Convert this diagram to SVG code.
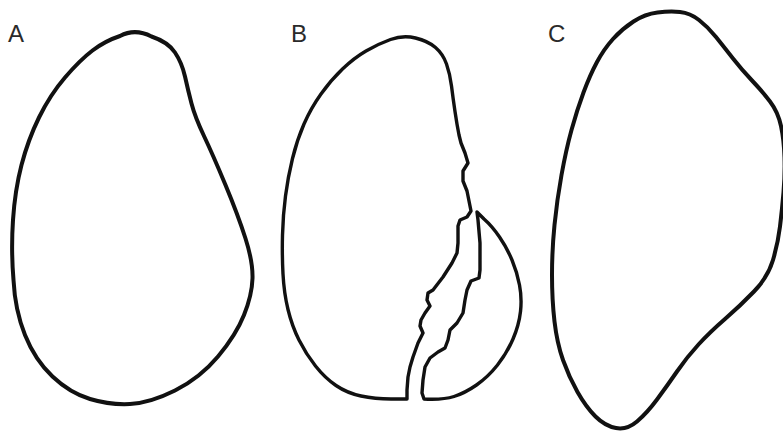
<svg xmlns="http://www.w3.org/2000/svg" width="783" height="432" viewBox="0 0 783 432">
  <style>
    .outline { fill: none; stroke: #111; stroke-linejoin: round; stroke-linecap: round; }
    .thick { stroke-width: 4; }
    .thin { stroke-width: 3.4; }
    .label { font-family: "Liberation Sans", Arial, sans-serif; font-size: 24px; fill: #2a2a2a; }
  </style>
  <rect width="783" height="432" fill="#fff"/>

  <!-- A: intact outline -->
  <g id="shape-a">
    <text class="label" x="8" y="42">A</text>
    <path class="outline thick" d="M120,36 Q135,28 151.5,36.5 Q168,42 175,52.5 Q182,63 185,76.5 Q188,90 191.5,103.5 Q195,117 204,136 Q213,155 225.5,185 Q238,215 245.5,238.5 Q253,262 252.5,278.5 Q252,295 244,315 Q236,335 218,356.5 Q200,378 175,390.5 Q150,403 130,404 Q110,405 90,399 Q70,393 52.5,376.5 Q35,360 25,335 Q15,310 13.5,280 Q11,250 13,220 Q15,190 21.5,165 Q28,140 39,117.5 Q50,95 65,77.5 Q80,60 92.5,50.5 Q105,41 120,36 Z"/>
  </g>

  <!-- B: main piece with a separated fragment along the crack -->
  <g id="shape-b">
    <text class="label" x="291" y="42">B</text>
    <path id="b-main" class="outline thin" d="M407,399 L391,399 Q375,399 361,396 Q347,393 336,385.5 Q325,378 315.5,366 Q306,354 299,340 Q292,326 288,309.5 Q284,293 283,274 Q282,255 282.5,235 Q283,215 285.5,196 Q288,177 292.5,158.5 Q297,140 304,124 Q311,108 321,94 Q331,80 342.5,69 Q354,58 366,51 Q378,44 390.5,39.5 Q403,35 415.5,38 Q428,41 435.5,47.5 Q443,54 446.5,64 Q450,74 451.5,86 Q453,98 455,111.5 Q457,125 459,135 L461,143 L465,153 L468,163 L463,171 L463,181 L467,191 L469,201 L471,211 L467,217 L460,220 L458,226 L458,243 L457,253 L452,263 L443,277 L433,290 L428,293 L427,300 L430,306 L425,313 L421,320 L420,326 L423,333 L418,343 L413,357 L410,367 L408,377 L407,390 Z"/>
    <path id="b-fragment" class="outline thin" d="M477,212 L484,219 Q492,226 499.5,237 Q507,248 512,260 Q517,272 519.5,285 Q522,298 520.5,311.5 Q519,325 513,339 Q507,353 497.5,365 Q488,377 476.5,385 Q465,393 454,396.5 Q443,400 424,399 L422,393 L423,380 L425,367 L430,358 L438,352 L445,348 L448,340 L450,330 L457,323 L463,313 L465,300 L467,290 L471,281 L479,278 L480,270 L480,243 L478,220 Z"/>
  </g>

  <!-- C: reshaped outline -->
  <g id="shape-c">
    <text class="label" x="548" y="42">C</text>
    <path class="outline thick" d="M657.5,12.5 Q670,11 680,12 Q690,13 699,20 Q708,27 716,37 Q724,47 733,58.5 Q742,70 752,80.5 Q762,91 770,101.5 Q778,112 781,126 Q784,140 784.5,157.5 Q785,175 783.5,192.5 Q782,210 780,226.5 Q778,243 773,260 Q768,277 754,291.5 Q740,306 725,319 Q710,332 698.5,344.5 Q687,357 677,371.5 Q667,386 657,399.5 Q647,413 637,421.5 Q627,430 616,428 Q605,426 595.5,416.5 Q586,407 577.5,392 Q569,377 563,360 Q557,343 554.5,321.5 Q552,300 552,275 Q552,250 554.5,225 Q557,200 561.5,175 Q566,150 571.5,130 Q577,110 583.5,92.5 Q590,75 597,62 Q604,49 613,39 Q622,29 633.5,21.5 Q645,14 657.5,12.5 Z"/>
  </g>
</svg>
